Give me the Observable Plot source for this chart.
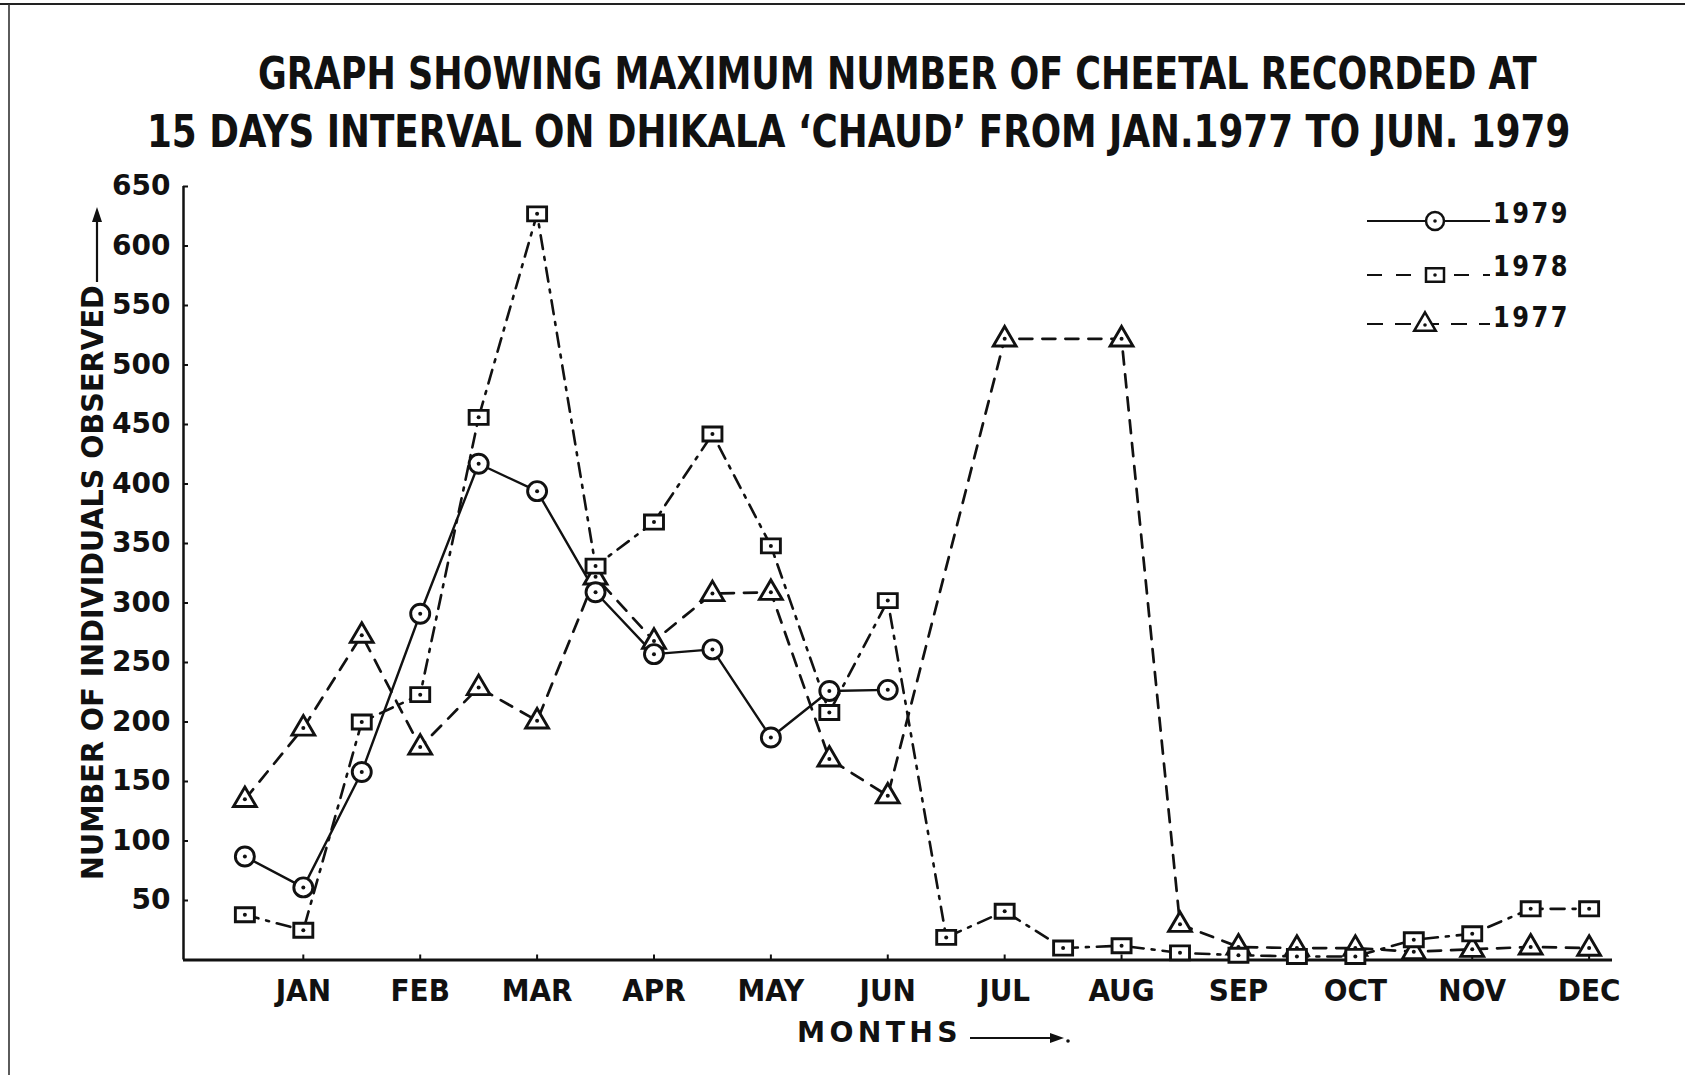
<!DOCTYPE html>
<html>
<head>
<meta charset="utf-8">
<script src="https://cdn.jsdelivr.net/npm/d3@7"></script>
<script src="https://cdn.jsdelivr.net/npm/@observablehq/plot@0.6"></script>
<style>
  html, body { margin: 0; padding: 0; background: #fff; }
  #wrap { position: relative; width: 1685px; height: 1075px; overflow: hidden; background: #fff; }
  #wrap > svg, #wrap > figure { display: block; margin: 0; }
  #overlay { position: absolute; left: 0; top: 0; pointer-events: none; }
</style>
</head>
<body>
<div id="wrap"></div>
<script>
// ---------------- DATA ----------------
const titleLines = [
  "GRAPH SHOWING MAXIMUM NUMBER OF CHEETAL RECORDED AT",
  "15 DAYS INTERVAL ON DHIKALA \u2018CHAUD\u2019 FROM JAN.1977 TO JUN. 1979"
];
const yLabel = "NUMBER OF INDIVIDUALS OBSERVED";
const xLabel = "MONTHS";
const months = ["JAN","FEB","MAR","APR","MAY","JUN","JUL","AUG","SEP","OCT","NOV","DEC"];
const monthPos = [1,2,3,4,5,6,7,8,9,10,11,12];
// observation positions (every 15 days), in month units
const obsPos = [0.5,1,1.5,2,2.5,3,3.5,4,4.5,5,5.5,6,6.5,7,7.5,8,8.5,9,9.5,10,10.5,11,11.5,12];
const yTicks = [50,100,150,200,250,300,350,400,450,500,550,600,650];
const seriesNames = ["1979","1978","1977"];
const v1979 = [87,61,158,291,417,394,309,257,261,187,226,227,null,null,null,null,null,null,null,null,null,null,null,null];
const v1978 = [38,25,200,223,456,627,331,368,442,348,208,302,19,41,10,12,6,4,3,3,17,22,43,43];
const v1977 = [135,195,273,179,229,201,322,268,308,309,169,138,null,522,null,522,30,11,10,10,7,9,11,10];

// ---------------- BUILD ----------------
function rowsOf(name, vals) {
  const out = [];
  vals.forEach((v, i) => { if (v != null) out.push({x: obsPos[i], y: v, series: name}); });
  return out;
}
const r1979 = rowsOf("1979", v1979);
const r1978 = rowsOf("1978", v1978);
const r1977 = rowsOf("1977", v1977);
const allRows = r1979.concat(r1978, r1977);

const rectSymbol = {
  draw(ctx, size) {
    const r = Math.sqrt(size / Math.PI);
    const w = r, h = r * 0.74;
    ctx.rect(-w, -h, 2 * w, 2 * h);
  }
};
const triSymbol = {
  draw(ctx, size) {
    const r = Math.sqrt(size / Math.PI);
    const w = r * 1.2, up = r * 1.3, down = r * 0.75;
    ctx.moveTo(0, -up);
    ctx.lineTo(w, down);
    ctx.lineTo(-w, down);
    ctx.closePath();
  }
};

// Fit a text to a target width by horizontal scaling (real geometry, no textLength)
function fitText(sel, target, prefix) {
  const len = sel.node().getComputedTextLength();
  const sx = len > 0 ? target / len : 1;
  sel.attr("transform", `${prefix} scale(${sx},1)`);
}

const W = 1685, H = 1075, titleH = 165;
const wrap = d3.select("#wrap");

// Title (above the plot)
const tsvg = wrap.append("svg").attr("width", W).attr("height", titleH);
const titleSpec = [{x: 258, y: 89, len: 1279}, {x: 147, y: 147, len: 1424}];
titleLines.forEach((t, i) => {
  const tx = tsvg.append("text")
    .attr("x", 0).attr("y", 0)
    .style("font-family", "'DejaVu Sans Condensed','DejaVu Sans',sans-serif")
    .style("font-weight", "bold").style("font-size", "44px").attr("fill", "#111")
    .text(t);
  fitText(tx, titleSpec[i].len, `translate(${titleSpec[i].x},${titleSpec[i].y})`);
});

// Plot
const xDomain = [-0.025, 12.2];
const plotH = H - titleH;
const chart = Plot.plot({
  width: W,
  height: plotH,
  marginLeft: 183,
  marginRight: 73,
  marginTop: 186 - titleH,
  marginBottom: plotH - (959.5 - titleH),
  style: {background: "white", color: "#111"},
  x: {domain: xDomain},
  y: {domain: [0, 650]},
  marks: [
    Plot.axisY({ticks: yTicks, tickSize: -5, tickPadding: 18, label: null, fontSize: 28,
      fontWeight: "bold", fontFamily: "'DejaVu Sans',sans-serif", strokeWidth: 2}),
    Plot.axisX({ticks: monthPos, tickFormat: d => months[d - 1], tickSize: -5, tickPadding: 24,
      label: null, fontSize: 31, fontWeight: "bold",
      fontFamily: "'DejaVu Sans Condensed','DejaVu Sans',sans-serif", strokeWidth: 2}),
    Plot.ruleY([0], {strokeWidth: 3, stroke: "#111"}),
    Plot.ruleX([xDomain[0]], {strokeWidth: 2.5, stroke: "#111"}),
    Plot.line(r1979, {x: "x", y: "y", stroke: "#111", strokeWidth: 2.4}),
    Plot.line(r1978, {x: "x", y: "y", stroke: "#111", strokeWidth: 2.6, strokeDasharray: "14,8,3,8"}),
    Plot.line(r1977, {x: "x", y: "y", stroke: "#111", strokeWidth: 2.7, strokeDasharray: "13,10"}),
    Plot.dot(r1977, {x: "x", y: "y", r: 9.5, symbol: triSymbol, fill: "white", stroke: "#111", strokeWidth: 2.9}),
    Plot.dot(r1978, {x: "x", y: "y", r: 9.5, symbol: rectSymbol, fill: "white", stroke: "#111", strokeWidth: 2.9}),
    Plot.dot(r1979, {x: "x", y: "y", r: 9.5, symbol: "circle", fill: "white", stroke: "#111", strokeWidth: 2.9}),
    Plot.dot(allRows, {x: "x", y: "y", r: 2, fill: "#111"})
  ]
});
wrap.node().appendChild(chart);

// Overlay: axis titles, legend, page border
const ov = wrap.append("svg").attr("id", "overlay").attr("width", W).attr("height", H);
ov.append("line").attr("x1", 0).attr("y1", 4).attr("x2", W).attr("y2", 4).attr("stroke", "#222").attr("stroke-width", 2);
ov.append("line").attr("x1", 9).attr("y1", 4).attr("x2", 9).attr("y2", H).attr("stroke", "#333").attr("stroke-width", 1.6);

// Y-axis title
const yl = ov.append("text")
  .attr("x", 0).attr("y", 0)
  .style("font-family", "'DejaVu Sans',sans-serif").style("font-weight", "bold").style("font-size", "31px")
  .attr("fill", "#111").text(yLabel);
fitText(yl, 595, "translate(103,880) rotate(-90)");
ov.append("line").attr("x1", 97).attr("y1", 282).attr("x2", 97).attr("y2", 218).attr("stroke", "#111").attr("stroke-width", 2.2);
ov.append("polygon").attr("points", "97,207 92,222 102,222").attr("fill", "#111");

// X-axis title
const xl = ov.append("text")
  .attr("x", 0).attr("y", 0)
  .style("font-family", "'DejaVu Sans Condensed','DejaVu Sans',sans-serif").style("font-weight", "bold").style("font-size", "29px")
  .style("letter-spacing", "4px")
  .attr("fill", "#111").text(xLabel);
fitText(xl, 165, "translate(797,1042)");
ov.append("line").attr("x1", 970).attr("y1", 1038).attr("x2", 1054).attr("y2", 1038).attr("stroke", "#111").attr("stroke-width", 2);
ov.append("polygon").attr("points", "1064,1038 1050,1033 1050,1043").attr("fill", "#111");
ov.append("circle").attr("cx", 1068).attr("cy", 1041).attr("r", 1.8).attr("fill", "#111");

// Legend
const legendRows = [
  {name: seriesNames[0], y: 221, ty: 223, mx: 1435, dash: null, sym: "circle"},
  {name: seriesNames[1], y: 275, ty: 276, mx: 1435, dash: "15,14", sym: "rect"},
  {name: seriesNames[2], y: 324, ty: 327, mx: 1425, dash: "16,12", sym: "tri"}
];
legendRows.forEach(d => {
  const ln = ov.append("line").attr("x1", 1367).attr("x2", 1490).attr("y1", d.y).attr("y2", d.y)
    .attr("stroke", "#111").attr("stroke-width", 2.2);
  if (d.dash) ln.attr("stroke-dasharray", d.dash);
  const g = ov.append("g").attr("transform", `translate(${d.mx},${d.y})`);
  const sym = d.sym === "circle" ? d3.symbolCircle : d.sym === "rect" ? rectSymbol : triSymbol;
  g.append("path").attr("d", d3.symbol(sym, Math.PI * 9 * 9)())
    .attr("fill", "white").attr("stroke", "#111").attr("stroke-width", 2.5);
  g.append("circle").attr("r", 1.8).attr("fill", "#111").attr("cy", d.sym === "tri" ? 1 : 0);
  const lt = ov.append("text").attr("x", 0).attr("y", 0)
    .style("font-family", "'DejaVu Sans',sans-serif").style("font-weight", "bold").style("font-size", "29px")
    .style("letter-spacing", "3px")
    .attr("fill", "#111").text(d.name);
  fitText(lt, 77, `translate(1493,${d.ty})`);
});
</script>
</body>
</html>
